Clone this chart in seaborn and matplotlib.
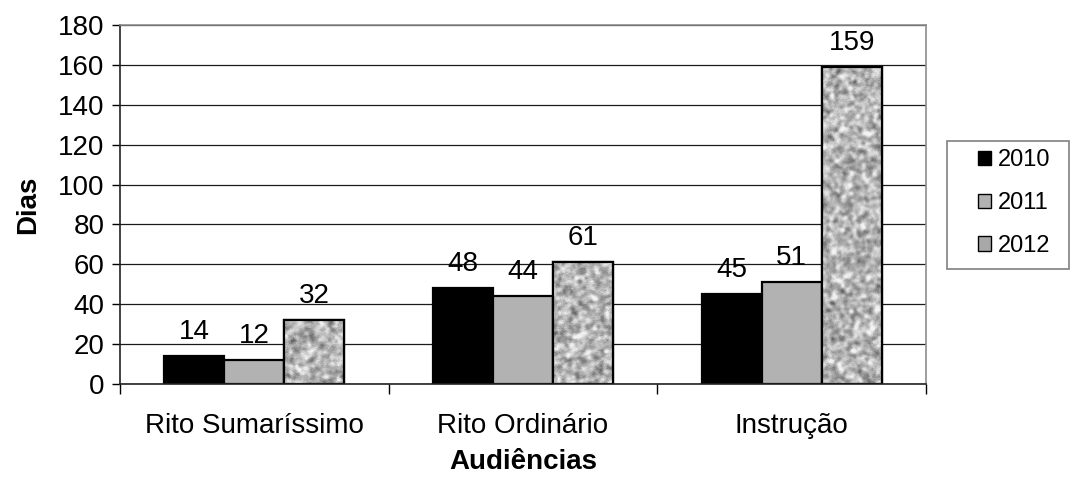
import numpy as np
import pandas as pd
import matplotlib
matplotlib.use("Agg")
import matplotlib.pyplot as plt
import seaborn as sns

# Average waiting time (days) per hearing type and year
categories = ["Rito Sumaríssimo", "Rito Ordinário", "Instrução"]
years = ["2010", "2011", "2012"]
dias_2010 = [14, 48, 45]
dias_2011 = [12, 44, 51]
dias_2012 = [32, 61, 159]
y_ticks = [0, 20, 40, 60, 80, 100, 120, 140, 160, 180]

df = pd.DataFrame({
    "Audiências": categories * 3,
    "Ano": [years[0]] * 3 + [years[1]] * 3 + [years[2]] * 3,
    "Dias": dias_2010 + dias_2011 + dias_2012,
})

sns.set_theme(style="white")
plt.rcParams["font.family"] = ["Liberation Sans", "DejaVu Sans"]
plt.rcParams["text.color"] = "black"
plt.rcParams["axes.labelcolor"] = "black"
plt.rcParams["xtick.color"] = "black"
plt.rcParams["ytick.color"] = "black"

W, H = 1071, 484
fig = plt.figure(figsize=(W / 100, H / 100), dpi=100)
ax = fig.add_axes([0.112, 0.207, 0.7526, 0.741])

palette = {"2010": "#000000", "2011": "#b2b2b2", "2012": "#a8a8a8"}
sns.barplot(data=df, x="Audiências", y="Dias", hue="Ano", order=categories,
            hue_order=years, palette=palette, width=0.67, gap=0,
            edgecolor="black", linewidth=1.6, saturation=1, ax=ax, legend=True)


def granite(h, w, seed):
    """Speckled grey stone texture for the 2012 fill."""
    rng = np.random.default_rng(seed)
    noise = rng.standard_normal((h, w))
    ky = np.fft.fftfreq(h)[:, None]
    kx = np.fft.fftfreq(w)[None, :]
    blur = np.exp(-(kx ** 2 + ky ** 2) * (2 * np.pi * 1.6) ** 2 / 2)
    tex = np.real(np.fft.ifft2(np.fft.fft2(noise) * blur))
    tex = (tex - tex.mean()) / tex.std()
    fine = rng.standard_normal((h, w))
    return np.clip(0.71 + 0.10 * tex + 0.03 * fine, 0.3, 0.95)


ax.set_ylim(0, 180)
ax.set_xlim(-0.5, 2.5)

# stone texture clipped to each 2012 bar
tex_container = ax.containers[2]
for i, bar in enumerate(tex_container.patches):
    x0 = bar.get_x()
    w = bar.get_width()
    h = bar.get_height()
    npx_h = max(int(h * 2.0), 10)
    img = ax.imshow(granite(npx_h, 60, 11 + i), cmap="gray", vmin=0, vmax=1,
                    extent=[x0, x0 + w, 0, h], aspect="auto",
                    interpolation="bilinear", zorder=bar.get_zorder() + 0.1)
    img.set_clip_path(bar)
    bar.set_facecolor("none")
    edge = plt.Rectangle((x0, 0), w, h, fill=False, edgecolor="black",
                         linewidth=1.6, zorder=bar.get_zorder() + 0.2)
    ax.add_patch(edge)
ax.set_aspect("auto")
ax.set_ylim(0, 180)
ax.set_xlim(-0.5, 2.5)

# value labels
for cont in ax.containers:
    ax.bar_label(cont, fmt="%d", padding=8, fontsize=20, color="black")

# axes styling
ax.set_yticks(y_ticks)
ax.yaxis.grid(True, color="#1a1a1a", linewidth=0.9)
ax.set_axisbelow(True)
ax.set_xticks([-0.5, 0.5, 1.5, 2.5])
ax.set_xticklabels([])
ax.set_xticks([0, 1, 2], minor=True)
ax.set_xticklabels(categories, minor=True, fontsize=20)
ax.tick_params(axis="x", which="major", direction="out", length=7, width=1,
               color="black", bottom=True)
ax.tick_params(axis="x", which="minor", length=0, pad=21)
ax.tick_params(axis="y", direction="out", length=6, width=1, color="black",
               left=True, labelsize=20, pad=5)
for side in ("left", "bottom"):
    ax.spines[side].set_color("#222222")
    ax.spines[side].set_linewidth(1.2)
for side in ("top", "right"):
    ax.spines[side].set_visible(True)
    ax.spines[side].set_color("#8c8c8c")
    ax.spines[side].set_linewidth(1.2)

ax.set_ylabel("Dias", fontsize=20, fontweight="bold", labelpad=12)
ax.set_xlabel("Audiências", fontsize=20, fontweight="bold", labelpad=7)

# legend: plain grey box on the right with square swatches
handles, labels = ax.get_legend_handles_labels()
if ax.legend_:
    ax.legend_.remove()
box = plt.Rectangle((947 / W, 1 - 269 / H), 122 / W, 128 / H,
                    transform=fig.transFigure, facecolor="white",
                    edgecolor="#808080", linewidth=1.2, zorder=1)
fig.patches.append(box)
leg = fig.legend(handles, labels, loc="center left",
                 bbox_to_anchor=(978 / W, 1 - 203 / H), frameon=False,
                 fontsize=17, handlelength=0.55, handleheight=0.55,
                 handletextpad=0.3, labelspacing=0.88, borderpad=0,
                 borderaxespad=0)
leg.set_zorder(2)
for hnd in leg.legend_handles:
    hnd.set_edgecolor("black")
    hnd.set_linewidth(1.0)

fig.savefig("out.png", dpi=100, facecolor="white")
